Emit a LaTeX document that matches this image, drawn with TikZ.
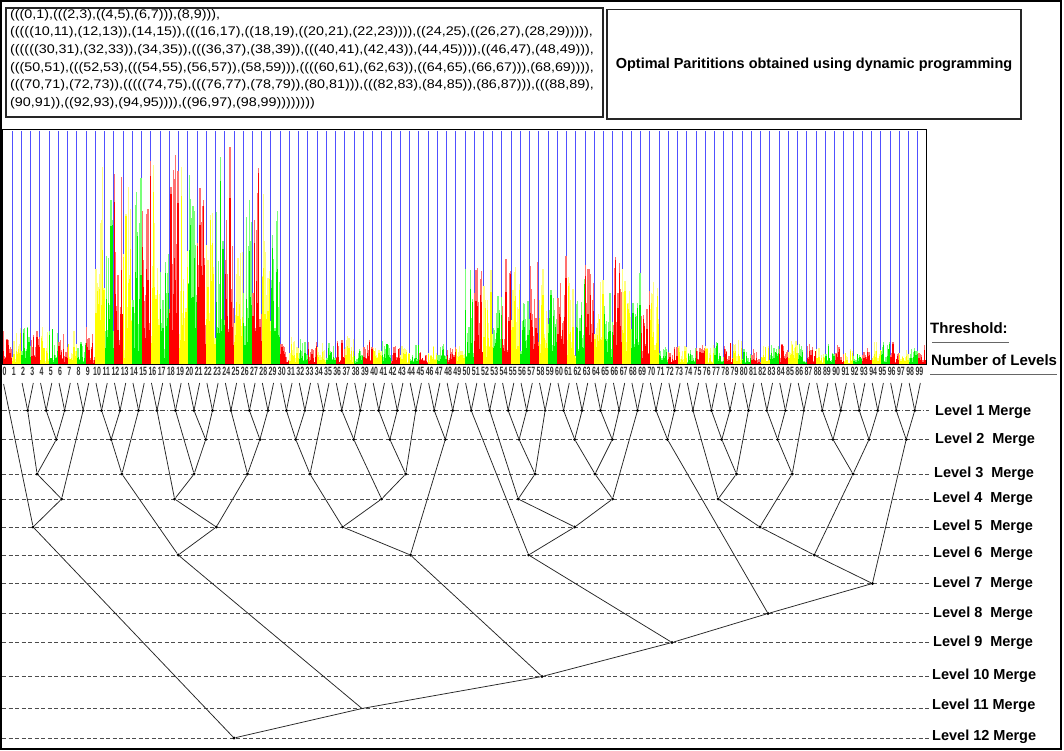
\documentclass[tikz,border=0pt]{standalone}
\usepackage{fontspec}
\usepackage{graphicx}
\setmainfont{Liberation Sans}
\newfontfamily\partfont[FakeStretch=1.145]{Liberation Sans}
\definecolor{bred}{RGB}{255,0,0}
\definecolor{bredl}{RGB}{255,112,112}
\definecolor{byel}{RGB}{255,255,0}
\definecolor{byell}{RGB}{255,255,130}
\definecolor{bgrn}{RGB}{0,240,0}
\definecolor{bgrnl}{RGB}{120,255,120}
\definecolor{bblue}{RGB}{80,80,255}
\tikzset{
  lvl/.style={draw=black!70, line width=0.8pt, dash pattern=on 4pt off 2.5pt},
  lvlone/.style={draw=black!70, line width=0.8pt, dash pattern=on 5pt off 2pt on 1.5pt off 2pt},
  conn/.style={draw=black!85, line width=0.75pt},
  dotnode/.style={circle, fill=black, inner sep=0pt, minimum size=3.2pt},
  lvltext/.style={anchor=west, font=\fontsize{14.5}{16}\selectfont\bfseries, inner sep=0pt},
  sidetext/.style={anchor=west, font=\fontsize{15}{16}\selectfont\bfseries, inner sep=0pt},
  axlab/.style={font=\fontsize{12}{12}\selectfont\bfseries, inner sep=0pt, text=black!80},
  boxframe/.style={draw=black!85, line width=1.3pt},
  uline/.style={draw=black!60, line width=1.5pt},
}
\begin{document}
\begin{tikzpicture}[x=1pt,y=-1pt]
\useasboundingbox (0,0) rectangle (1064,751);
\fill[white] (0,0) rectangle (1064,751);
\def\yI{410.5}\def\yII{439.5}\def\yIII{474}\def\yIV{499}\def\yV{527}\def\yVI{555}
\def\yVII{583.5}\def\yVIII{613.5}\def\yIX{642.5}\def\yX{676.5}\def\yXI{708.5}\def\yXII{738}

% outer frame
\draw[black, line width=1.2pt] (1,1) rectangle (1061,749);

% top boxes
\draw[boxframe] (6,8) rectangle (603,117);
\node[anchor=north west, inner sep=0pt, align=left, font={\fontsize{12.5}{17.6}\selectfont\partfont}] (part) at (10,9)
{(((0,1),(((2,3),((4,5),(6,7))),(8,9))),\\
(((((10,11),(12,13)),(14,15)),(((16,17),((18,19),((20,21),(22,23)))),((24,25),((26,27),(28,29))))),\\
((((((30,31),(32,33)),(34,35)),(((36,37),(38,39)),(((40,41),(42,43)),(44,45)))),((46,47),(48,49))),\\
(((50,51),(((52,53),(((54,55),(56,57)),(58,59))),((((60,61),(62,63)),((64,65),(66,67))),(68,69)))),\\
(((70,71),(72,73)),(((((74,75),(((76,77),(78,79)),(80,81))),(((82,83),(84,85)),(86,87))),(((88,89),\\
(90,91)),((92,93),(94,95)))),((96,97),(98,99))))))))};
\draw[boxframe] (607,9.5) rectangle (1021,119);
\node[font=\fontsize{14.5}{16}\selectfont\bfseries, inner sep=0pt] (title) at (814,65)
  {Optimal Parititions obtained using dynamic programming};

% chart: blue separators
\foreach \k in {1,...,99} {
  \pgfmathsetmacro\bx{3+9.24*\k}
  \draw[bblue, line width=1pt] (\bx,131) -- (\bx,364);
}
% bars: light bar behind, darker bar in front
\pgfmathsetseed{7}
\foreach \H [count=\i from 0] in {37,37,39,36,41,42,44,37,26,41,
  211,219,224,179,207,209,211,121,214,219,204,215,211,223,223,223,221,212,186,173,
  22,28,26,28,28,22,24,28,22,28,24,24,22,18,22,18,18,22,20,24,
  103,98,106,88,110,98,103,108,96,103,108,98,108,106,94,98,108,98,106,88,93,
  20,18,20,22,24,20,24,22,26,16,18,18,22,22,24,20,22,18,22,20,18,16,20,22,24,22,20,18,20} {
  \pgfmathtruncatemacro\cm{mod(\i,3)}
  \ifcase\cm \def\ca{bred}\def\cb{bredl}\or \def\ca{byel}\def\cb{byell}\or \def\ca{bgrn}\def\cb{bgrnl}\fi
  \foreach \j in {0,...,7} {
    \pgfmathsetmacro\hh{\H*(0.08+0.92*rnd)}
    \pgfmathsetmacro\hd{\hh*(0.3+0.7*rnd)}
    \pgfmathsetmacro\xa{3+9.24*\i+1.155*\j}
    \fill[\cb] (\xa,364) rectangle ++(1.16,-\hh);
    \fill[\ca] (\xa,364) rectangle ++(1.16,-\hd);
  }
}
\draw[black, line width=1pt] (2.5,130) rectangle (926.5,364);

% axis labels
\foreach \i in {0,...,99} {
  \pgfmathsetmacro\lx{4.6+9.24*\i}
  \node[axlab] (l\i) at (\lx,371) {\scalebox{0.58}[1]{\i}};
}

% threshold texts
\node[sidetext] (thr) at (930,328) {Threshold:};
\draw[uline] (932,342.5) -- (1009,342.5);
\node[sidetext] (nol) at (931,360) {Number of Levels};
\draw[uline] (930,374.5) -- (1057,374.5);

% level lines and labels
\draw[lvlone] (2,\yI) -- (929,\yI);
\foreach \yy in {\yII,\yIII,\yIV,\yV,\yVI,\yVII,\yVIII,\yIX,\yX,\yXI,\yXII}
  \draw[lvl] (2,\yy) -- (929,\yy);
\node[lvltext] (lv1) at (935,\yI+1.5) {Level 1 Merge};
\node[lvltext] (lv2) at (935,\yII) {Level 2\hspace{0.55em}Merge};
\node[lvltext] (lv3) at (934,\yIII) {Level 3\hspace{0.55em}Merge};
\node[lvltext] (lv4) at (933,\yIV) {Level 4\hspace{0.55em}Merge};
\node[lvltext] (lv5) at (933,\yV) {Level 5\hspace{0.55em}Merge};
\node[lvltext] (lv6) at (933,\yVI-1) {Level 6\hspace{0.55em}Merge};
\node[lvltext] (lv7) at (933,\yVII) {Level 7\hspace{0.55em}Merge};
\node[lvltext] (lv8) at (933,\yVIII) {Level 8\hspace{0.55em}Merge};
\node[lvltext] (lv9) at (933,\yIX) {Level 9\hspace{0.55em}Merge};
\node[lvltext] (lv10) at (932,\yX-1) {Level 10 Merge};
\node[lvltext] (lv11) at (932,\yXI-3) {Level 11 Merge};
\node[lvltext] (lv12) at (932,\yXII-1) {Level 12 Merge};

% level-1 merges with leaf lines
\foreach \k in {1,...,49} {
  \pgfmathsetmacro\px{9.2+18.48*\k}
  \pgfmathtruncatemacro\la{2*\k}
  \pgfmathtruncatemacro\lb{2*\k+1}
  \pgfmathsetmacro\xa{4.6+9.24*\la-1}
  \pgfmathsetmacro\xb{4.6+9.24*\lb+1}
  \node[dotnode] (p\k) at (\px,\yI) {};
  \coordinate (t\la) at (\xa,383);
  \coordinate (t\lb) at (\xb,383);
  \draw[conn] (t\la) -- (p\k);
  \draw[conn] (t\lb) -- (p\k);
}
\coordinate (t0) at (3.6,384);

% internal merge nodes
\node[dotnode] (Q1) at (56.3,\yII) {};
\node[dotnode] (R1) at (37.1,\yIII) {};
\node[dotnode] (S1) at (61.6,\yIV) {};
\node[dotnode] (T1) at (33.1,\yV) {};
\node[dotnode] (Q2) at (111.2,\yII) {};
\node[dotnode] (R2) at (121.9,\yIII) {};
\node[dotnode] (Q3) at (205.7,\yII) {};
\node[dotnode] (R3) at (194.1,\yIII) {};
\node[dotnode] (S3) at (174.6,\yIV) {};
\node[dotnode] (Q4) at (259.9,\yII) {};
\node[dotnode] (R4) at (247.5,\yIII) {};
\node[dotnode] (T3) at (216.3,\yV) {};
\node[dotnode] (U2) at (178.2,\yVI) {};
\node[dotnode] (Q5) at (295.8,\yII) {};
\node[dotnode] (R5) at (310.0,\yIII) {};
\node[dotnode] (Q6) at (353.8,\yII) {};
\node[dotnode] (Q7) at (389.9,\yII) {};
\node[dotnode] (R7) at (405.7,\yIII) {};
\node[dotnode] (S6) at (381.6,\yIV) {};
\node[dotnode] (T5) at (342.6,\yV) {};
\node[dotnode] (Q8) at (445.3,\yII) {};
\node[dotnode] (U5) at (410.4,\yVI) {};
\node[dotnode] (Q9) at (519.1,\yII) {};
\node[dotnode] (R9) at (535.0,\yIII) {};
\node[dotnode] (S9) at (518.2,\yIV) {};
\node[dotnode] (Q10) at (574.7,\yII) {};
\node[dotnode] (Q11) at (612.2,\yII) {};
\node[dotnode] (R10) at (595.0,\yIII) {};
\node[dotnode] (S10) at (612.6,\yIV) {};
\node[dotnode] (T9) at (574.8,\yV) {};
\node[dotnode] (U9) at (528.6,\yVI) {};
\node[dotnode] (Q12) at (667.5,\yII) {};
\node[dotnode] (Q13) at (721.8,\yII) {};
\node[dotnode] (R13) at (736.4,\yIII) {};
\node[dotnode] (S13) at (718.1,\yIV) {};
\node[dotnode] (Q14) at (777.6,\yII) {};
\node[dotnode] (R14) at (792.2,\yIII) {};
\node[dotnode] (T13) at (759.9,\yV) {};
\node[dotnode] (Q15) at (833.0,\yII) {};
\node[dotnode] (Q16) at (869.0,\yII) {};
\node[dotnode] (R15) at (853.0,\yIII) {};
\node[dotnode] (U13) at (814.2,\yVI) {};
\node[dotnode] (Q17) at (906.2,\yII) {};
\node[dotnode] (V13) at (872.4,\yVII) {};
\node[dotnode] (H) at (768,\yVIII) {};
\node[dotnode] (F) at (672,\yIX) {};
\node[dotnode] (D) at (542,\yX) {};
\coordinate (B) at (362,\yXI);
\node[dotnode] (root) at (234,\yXII) {};

\foreach \a/\b in {p2/Q1,p3/Q1,p1/R1,Q1/R1,R1/S1,p4/S1,t0/T1,S1/T1,
  p5/Q2,p6/Q2,Q2/R2,p7/R2,p10/Q3,p11/Q3,p9/R3,Q3/R3,p8/S3,R3/S3,
  p13/Q4,p14/Q4,p12/R4,Q4/R4,S3/T3,R4/T3,R2/U2,T3/U2,
  p15/Q5,p16/Q5,Q5/R5,p17/R5,p18/Q6,p19/Q6,p20/Q7,p21/Q7,Q7/R7,p22/R7,
  Q6/S6,R7/S6,R5/T5,S6/T5,p23/Q8,p24/Q8,T5/U5,Q8/U5,
  p27/Q9,p28/Q9,Q9/R9,p29/R9,p26/S9,R9/S9,p30/Q10,p31/Q10,p32/Q11,p33/Q11,
  Q10/R10,Q11/R10,R10/S10,p34/S10,S9/T9,S10/T9,p25/U9,T9/U9,
  p35/Q12,p36/Q12,
  p38/Q13,p39/Q13,Q13/R13,p40/R13,p37/S13,R13/S13,p41/Q14,p42/Q14,Q14/R14,p43/R14,
  S13/T13,R14/T13,p44/Q15,p45/Q15,p46/Q16,p47/Q16,Q15/R15,Q16/R15,T13/U13,R15/U13,
  p48/Q17,p49/Q17,U13/V13,Q17/V13,
  Q12/H,V13/H,U9/F,H/F,U5/D,F/D,U2/B,D/B,T1/root,B/root}
  \draw[conn] (\a) -- (\b);
\end{tikzpicture}
\end{document}
